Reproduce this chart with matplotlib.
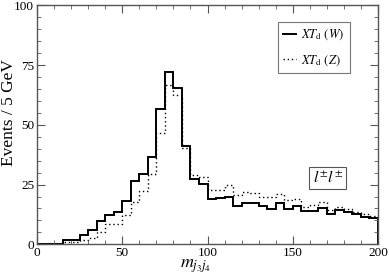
import numpy as np
import matplotlib
matplotlib.use('Agg')
import matplotlib.pyplot as plt
from matplotlib.ticker import MultipleLocator

plt.rcParams['font.family'] = 'serif'
plt.rcParams['font.serif'] = ['Liberation Serif', 'DejaVu Serif']
plt.rcParams['mathtext.fontset'] = 'stix'

# bin edges, 5 GeV bins from 0 to 200
edges = np.arange(0, 205, 5)

# XT_d (W) - solid
w_counts = [0, 0, 0, 1.8, 1.8, 4.1, 6.0, 9.9, 12.2, 13.4, 18.2, 26.4, 29.6, 36.4,
            56.7, 72.2, 65.4, 41.1, 27.2, 25.4,
            18.9, 19.2, 19.6, 16.1, 17.3, 17.3, 16.1, 14.7, 17.3, 14.6,
            16.1, 14.0, 14.0, 15.1, 12.5, 14.2, 13.6, 12.6, 11.5, 11.2]

# XT_d (Z) - dotted
z_counts = [0, 0, 0, 0.9, 0.9, 1.8, 2.8, 5.2, 8.3, 8.3, 12.4, 17.9, 22.2, 29.6,
            46.6, 66.7, 62.5, 40.5, 28.9, 28.2,
            22.6, 22.9, 24.7, 20.5, 21.8, 21.5, 19.8, 19.8, 21.2, 18.5,
            18.8, 15.7, 16.4, 17.8, 14.3, 15.7, 14.6, 13.6, 12.6, 11.8]

fig = plt.figure(figsize=(3.89, 2.78), dpi=100)
ax = fig.add_axes([37 / 389, 1 - 244.3 / 278, 341 / 389, 239 / 278])

ax.stairs(w_counts, edges, color='black', lw=1.4, label=r'$XT_{\rm d}\ (W)$')
ax.stairs(z_counts, edges, color='black', lw=1.0, linestyle=(0, (1, 2)),
          label=r'$XT_{\rm d}\ (Z)$')

ax.set_xlim(0, 200)
ax.set_ylim(0, 100)
ax.xaxis.set_major_locator(MultipleLocator(50))
ax.xaxis.set_minor_locator(MultipleLocator(10))
ax.yaxis.set_major_locator(MultipleLocator(25))
ax.yaxis.set_minor_locator(MultipleLocator(5))
ax.tick_params(which='both', direction='in', top=True, right=True,
               color='#555555', labelsize=9.5, pad=2)
ax.tick_params(which='major', length=6)
ax.tick_params(which='minor', length=3)
for s in ax.spines.values():
    s.set_color('#555555')
    s.set_linewidth(1.0)

ax.set_ylabel('Events / 5 GeV', fontsize=12.5)
ax.yaxis.set_label_coords(-0.06, 0.55)
ax.set_xlabel(r'$m_{j_3 j_4}$', fontsize=13)
ax.xaxis.set_label_coords(0.465, -0.055)

leg = ax.legend(loc='upper right', bbox_to_anchor=(0.918, 0.930), fontsize=9,
                frameon=True, fancybox=False, handlelength=1.0,
                handletextpad=0.45, borderpad=0.45, labelspacing=0.85,
                borderaxespad=0)
leg.get_frame().set_edgecolor('#555555')
leg.get_frame().set_linewidth(0.8)

ax.text(170.5, 27.8, r'$l^{\pm}l^{\pm}$', fontsize=11.5, ha='center', va='center',
        bbox=dict(boxstyle='square,pad=0.2', fc='white', ec='#555555', lw=0.8))

fig.savefig('out.png', dpi=100)
